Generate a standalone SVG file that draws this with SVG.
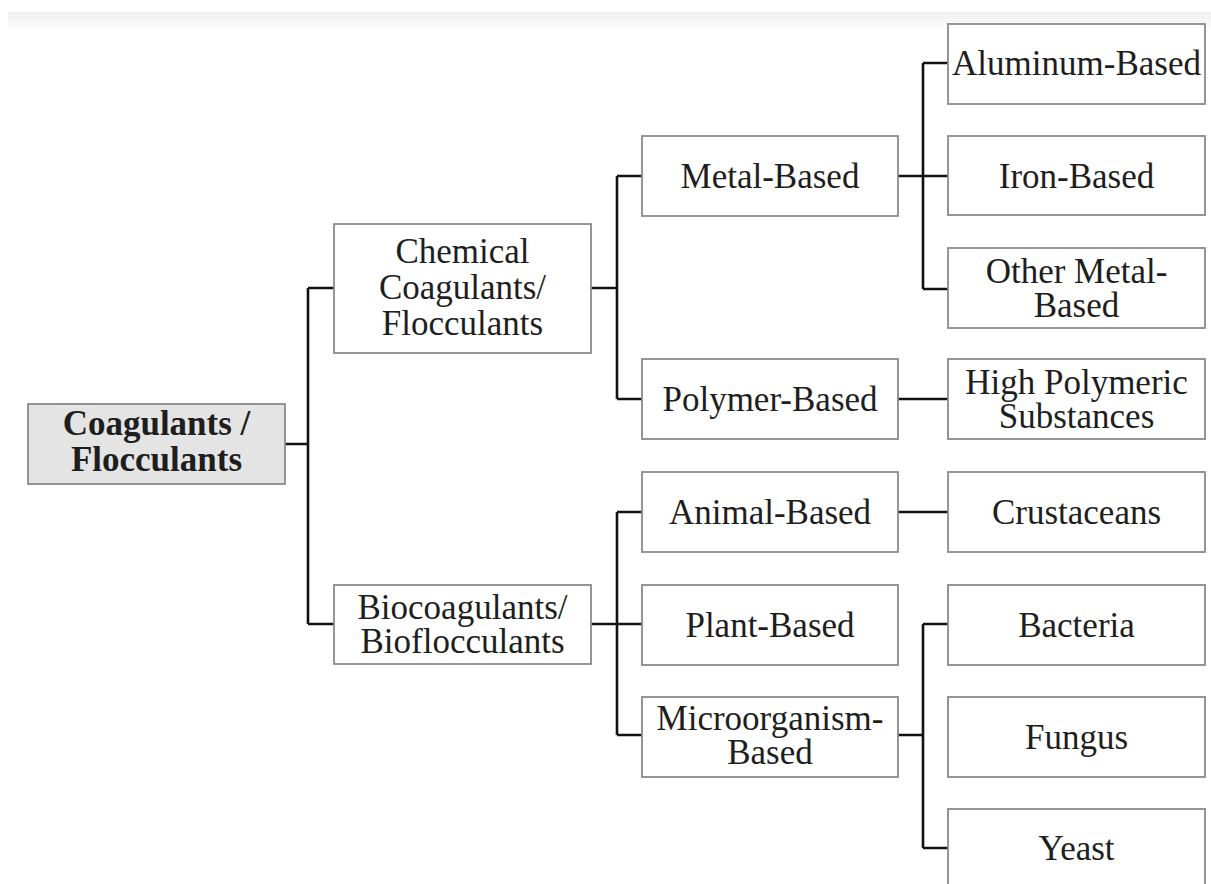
<svg xmlns="http://www.w3.org/2000/svg" width="1211" height="884" viewBox="0 0 1211 884">
<defs>
<linearGradient id="topbar" x1="0" y1="0" x2="0" y2="1">
<stop offset="0" stop-color="#efefef"/>
<stop offset="1" stop-color="#ffffff"/>
</linearGradient>
</defs>
<style>
.box{fill:#fff;stroke:#8a8a8a;stroke-width:1.8}
.root{fill:#e4e4e4;stroke:#8a8a8a;stroke-width:1.8}
.c{fill:none;stroke:#111;stroke-width:2.6}
</style>
<rect x="0" y="0" width="1211" height="884" fill="#fff"/>
<rect x="8" y="12" width="1203" height="20" fill="url(#topbar)"/>
<g id="connectors">
<path class="c" d="M285 444H308M308 288V624M308 288H334M308 624H334"/>
<path class="c" d="M591 288H617M617 176V399M617 176H642M617 399H642"/>
<path class="c" d="M591 624H642M617 512V735M617 512H642M617 735H642"/>
<path class="c" d="M898 176H948M923 63V289M923 63H948M923 289H948"/>
<path class="c" d="M898 399H948"/>
<path class="c" d="M898 512H948"/>
<path class="c" d="M898 735H923M923 624V848M923 624H948M923 848H948"/>
</g>
<g id="root"><rect class="root" x="28" y="404" width="257" height="80"/><text font-family="Liberation Serif" font-size="35" font-weight="bold" fill="#1e1e1e" text-anchor="middle" x="156.5" y="435">Coagulants /</text><text font-family="Liberation Serif" font-size="35" font-weight="bold" fill="#1e1e1e" text-anchor="middle" x="156.5" y="471">Flocculants</text></g>
<g id="chemical"><rect class="box" x="334" y="224" width="257" height="129"/><text font-family="Liberation Serif" font-size="35" fill="#1e1e1e" text-anchor="middle" x="462.5" y="263">Chemical</text><text font-family="Liberation Serif" font-size="35" fill="#1e1e1e" text-anchor="middle" x="462.5" y="299">Coagulants/</text><text font-family="Liberation Serif" font-size="35" fill="#1e1e1e" text-anchor="middle" x="462.5" y="335">Flocculants</text></g>
<g id="bio"><rect class="box" x="334" y="585" width="257" height="79"/><text font-family="Liberation Serif" font-size="35" fill="#1e1e1e" text-anchor="middle" x="462.5" y="619">Biocoagulants/</text><text font-family="Liberation Serif" font-size="35" fill="#1e1e1e" text-anchor="middle" x="462.5" y="653">Bioflocculants</text></g>
<g id="metal"><rect class="box" x="642" y="136" width="256" height="80"/><text font-family="Liberation Serif" font-size="35" fill="#1e1e1e" text-anchor="middle" x="770" y="188">Metal-Based</text></g>
<g id="polymer"><rect class="box" x="642" y="359" width="256" height="80"/><text font-family="Liberation Serif" font-size="35" fill="#1e1e1e" text-anchor="middle" x="770" y="411">Polymer-Based</text></g>
<g id="animal"><rect class="box" x="642" y="472" width="256" height="80"/><text font-family="Liberation Serif" font-size="35" fill="#1e1e1e" text-anchor="middle" x="770" y="524">Animal-Based</text></g>
<g id="plant"><rect class="box" x="642" y="585" width="256" height="80"/><text font-family="Liberation Serif" font-size="35" fill="#1e1e1e" text-anchor="middle" x="770" y="637">Plant-Based</text></g>
<g id="micro"><rect class="box" x="642" y="697" width="256" height="80"/><text font-family="Liberation Serif" font-size="35" fill="#1e1e1e" text-anchor="middle" x="770" y="730">Microorganism-</text><text font-family="Liberation Serif" font-size="35" fill="#1e1e1e" text-anchor="middle" x="770" y="764">Based</text></g>
<g id="aluminum"><rect class="box" x="948" y="24" width="257" height="80"/><text font-family="Liberation Serif" font-size="35" fill="#1e1e1e" text-anchor="middle" x="1076.5" y="75">Aluminum-Based</text></g>
<g id="iron"><rect class="box" x="948" y="136" width="257" height="79"/><text font-family="Liberation Serif" font-size="35" fill="#1e1e1e" text-anchor="middle" x="1076.5" y="188">Iron-Based</text></g>
<g id="othermetal"><rect class="box" x="948" y="248" width="257" height="80"/><text font-family="Liberation Serif" font-size="35" fill="#1e1e1e" text-anchor="middle" x="1076.5" y="283">Other Metal-</text><text font-family="Liberation Serif" font-size="35" fill="#1e1e1e" text-anchor="middle" x="1076.5" y="317">Based</text></g>
<g id="highpoly"><rect class="box" x="948" y="359" width="257" height="80"/><text font-family="Liberation Serif" font-size="35" fill="#1e1e1e" text-anchor="middle" x="1076.5" y="394">High Polymeric</text><text font-family="Liberation Serif" font-size="35" fill="#1e1e1e" text-anchor="middle" x="1076.5" y="428">Substances</text></g>
<g id="crustaceans"><rect class="box" x="948" y="472" width="257" height="80"/><text font-family="Liberation Serif" font-size="35" fill="#1e1e1e" text-anchor="middle" x="1076.5" y="524">Crustaceans</text></g>
<g id="bacteria"><rect class="box" x="948" y="585" width="257" height="80"/><text font-family="Liberation Serif" font-size="35" fill="#1e1e1e" text-anchor="middle" x="1076.5" y="637">Bacteria</text></g>
<g id="fungus"><rect class="box" x="948" y="697" width="257" height="80"/><text font-family="Liberation Serif" font-size="35" fill="#1e1e1e" text-anchor="middle" x="1076.5" y="749">Fungus</text></g>
<g id="yeast"><rect class="box" x="948" y="809" width="257" height="80"/><text font-family="Liberation Serif" font-size="35" fill="#1e1e1e" text-anchor="middle" x="1076.5" y="860">Yeast</text></g>
</svg>
